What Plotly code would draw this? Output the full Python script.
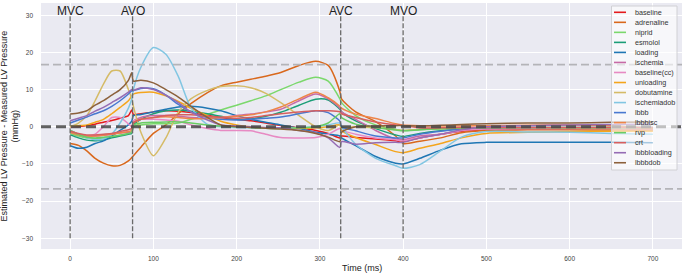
import plotly.graph_objects as go

# ---------------- data ----------------
T = [0, 10, 20, 30, 40, 50, 60, 70, 74, 76, 85, 100, 115, 130, 145, 165, 181, 200, 217, 235,
     253, 275, 295, 310, 324, 326, 343, 367, 391, 400, 420, 445, 470, 500, 550, 600, 650, 700]

baseline = [0, 0, 0.3, 0.7, 1.2, 1.7, 2.3, 3, 4.5, 3.3, 3.5, 4, 4.3, 4.2, 3.8, 3, 2.5, 2, 1.6, 1,
            0.3, -0.3, -1, -1.8, -3, -2.5, -2.9, -3.3, -3.8, -4, -3, -2, -1.2, -0.8, -0.7, -0.6, -0.6, -0.6]
adrenaline = [-4.5, -5, -6.5, -8.5, -9.8, -10.5, -10.4, -9.2, -8.3, -7.8, -5.5, -1.8, 0.5, 3.5, 6.2, 9.2, 11, 12, 12.8, 13.6,
              14.6, 16.5, 17.6, 16.5, 9.5, 7.5, 4, 1.4, -2.5, -4.5, -3.9, -3, -1.6, -1, -0.8, -0.8, -0.9, -1]
niprid = [-1.8, -2.5, -3, -3.2, -3, -2.7, -2.3, -1.8, -1.5, 0, 0.5, 0.8, 0.8, 1, 2, 3.3, 4.5, 5.8, 7, 8.3,
          10, 12, 13.3, 12.3, 7.5, 6.5, 3, 0.5, -0.7, -1, -0.8, -0.6, -0.4, -0.3, -0.3, -0.3, -0.3, -0.3]
esmolol = [-2.2, -3, -3.6, -3.8, -3.5, -3, -2.5, -2, -1.8, 0.5, 2, 3.5, 4.3, 4.5, 4.2, 3.5, 2.8, 2, 2.1, 2.8,
           3.9, 5.8, 7.4, 7.2, 4.7, 4, 1.6, -0.5, -2.2, -2.6, -1.8, -1.1, -0.6, -0.3, -0.3, -0.3, -0.3, -0.3]
loading = [-5.1, -5.8, -5.5, -4.5, -3.8, -2.5, -1, 0.5, 1.5, 3, 3.3, 4, 4.7, 5.3, 5.5, 5, 4.3, 3, 2, 1.2,
           0.5, -0.5, -1.5, -2, -2.5, -3, -5.1, -8, -9.8, -10, -8.5, -6.3, -4.6, -4.2, -4.2, -4.2, -4.2, -4.3]
ischemia = [-1.5, -2, -2.5, -2.5, -2.3, -2, -1.7, -1.5, -1.5, 1.5, 2.5, 3, 3, 2.8, 2.5, 2.3, 2.5, 3, 3.4, 4,
            4.7, 7, 8.8, 7.5, 5, 4, 2, -1, -3.3, -3.5, -2.5, -2, -1, -0.5, -0.5, -0.5, -0.5, -0.5]
baseline_cc = [-1, -2, -2.5, -2, 0, 2.5, 2.5, 0.8, 0, 1.5, 2, 2, 1.8, 1.5, 0.5, -0.5, -1, -1, -1.1, -2,
               -2.9, -3, -2.9, -2, -0.5, -1, -2, -3, -3.5, -3.8, -3, -2, -1, -0.6, -0.5, -0.5, -0.5, -0.5]
unloading = [0.2, 0.3, 0.5, 1.2, 2, 3.5, 5.2, 7, 8.3, 8.8, 9.2, 9.3, 8.3, 6.8, 5, 3, 1.5, 0.5, 0, -0.3,
             -0.4, -0.5, -0.3, 0, 0.5, -1, -2.9, -4.8, -6.7, -7, -5.8, -4.5, -3, -1.8, -1.5, -1.3, -1.2, -1.2]
dobutamine = [0, 1, 3, 7, 11.5, 15, 15, 10, 7.5, 5.5, -1.5, -7.8, -3, 4, 7.5, 9.8, 10.8, 11, 10.5, 9,
              6.5, 3, 0, -1, 0.5, 0, 0, -0.3, -0.8, -1, -0.7, -0.5, -0.4, -0.3, -0.3, -0.4, -0.5, -0.5]
ischemiadob = [-1, -2, -3, -3.5, -3.3, -2, 1, 5, 7.5, 10, 16, 21.3, 19.5, 13.5, 5.2, 0.6, 0, -0.2, -0.3, -0.3,
               -0.3, -0.2, 0, 0.5, 1, 0, -4.7, -8.5, -10.5, -11.2, -10.2, -6.5, -2.8, -1.3, -1.4, -1.5, -1.8, -2]
lbbb = [1, 1.8, 2.6, 3.5, 4.3, 5.5, 7, 8.8, 9.7, 9.7, 10.3, 10.2, 8.5, 6, 4, 2.5, 2, 1.8, 2, 2.3,
        2.6, 3.5, 4.3, 3.8, 1.5, 0, -1.1, -2.5, -3, -3, -2, -1.2, -0.6, -0.3, -0.2, -0.2, -0.2, -0.2]
lbbbisc = [-1.5, -2.2, -2.5, -2.5, -2.3, -2, -1.7, -1.3, -1, 1, 2, 2.5, 2.7, 2.5, 2.2, 2.2, 2.5, 2.8, 3.2, 4,
           5.3, 7.5, 9.3, 7.8, 5.5, 5, 3.4, 2.2, 0.8, 0.5, 0.3, 0.2, 0.2, 0.3, 0.4, 0.5, 0.3, -0.5]
rvp = [-1, -2, -2.8, -3, -2.8, -2.6, -2.3, -1.8, -1.5, 0.5, 1, 1.2, 1.3, 1.3, 1, 0.5, 0.2, 0, -0.2, -0.4,
       -0.5, -0.3, 0, 1, 3.5, 2.5, 0.7, -0.2, -0.9, -1.1, -0.8, -0.5, -0.4, -0.3, -0.2, -0.2, -0.2, -0.2]
crt = [-1.2, -1.8, -2.2, -2.2, -2, -1.8, -1.3, -0.8, -0.5, 1, 2, 2.5, 3, 3.2, 3.2, 2.8, 2.5, 2.3, 2.5, 3,
       3.5, 4, 4.3, 4.3, 4, 3.5, 2.5, 1.3, 0.5, 0.3, -0.3, -0.3, -0.2, -0.2, -0.2, -0.2, -0.2, -0.2]
lbbbloading = [1.6, 2.3, 3, 4.2, 5.2, 6.5, 7.8, 9.3, 10, 9.8, 10.5, 10, 8.5, 6.5, 4, 1.8, 0.5, 0.2, 0, -0.2,
               -0.3, -1, -1.6, -3, -5.6, -4, -4.7, -4.3, -4.2, -4.2, -3, -2, -0.8, 0, 0.3, 0.5, 0.6, 0.7]
lbbbdob = [3.4, 3.7, 4.3, 5.8, 7, 8.5, 10, 12.5, 14.5, 12.3, 12.5, 11.8, 10, 8, 5.5, 2.5, 0.5, 0, -0.2, -0.4,
           -0.6, -1, -1.8, -2.8, -4, -1.5, 0, 0.2, 0.3, 0.3, 0.2, 0.4, 0.6, 0.8, 1, 1, 1.2, 1.3]

NAMES = ["baseline", "adrenaline", "niprid", "esmolol", "loading", "ischemia", "baseline(cc)",
         "unloading", "dobutamine", "ischemiadob", "lbbb", "lbbbisc", "rvp", "crt",
         "lbbbloading", "lbbbdob"]
SERIES = [baseline, adrenaline, niprid, esmolol, loading, ischemia, baseline_cc, unloading,
          dobutamine, ischemiadob, lbbb, lbbbisc, rvp, crt, lbbbloading, lbbbdob]
COLORS = ["#e41a1c", "#d9681c", "#7bd86c", "#1b9e77", "#1f77b4", "#c76aa6", "#e78ac3",
          "#f4a51c", "#d5bb67", "#82c6e2", "#4878d0", "#ee854a", "#6acc64", "#d65f5f",
          "#956cb4", "#8c613c"]

EVENTS = [0, 75, 325, 400]
EVENT_LABELS = ["MVC", "AVO", "AVC", "MVO"]
LIMIT = 16.7
X_TICKS = [0, 100, 200, 300, 400, 500, 600, 700]
Y_TICKS = [-30, -20, -10, 0, 10, 20, 30]

# ---------------- figure ----------------
W, H = 685, 277
ML, MR, MT, MB = 41, 3, 3, 28
PW, PH = W - ML - MR, H - MT - MB

def px_x(p):
    return (p - ML) / PW

def px_y(p):
    return 1 - (p - MT) / PH

fig = go.Figure()
for name, vals, col in zip(NAMES, SERIES, COLORS):
    fig.add_trace(go.Scatter(x=T, y=vals, name=name, mode="lines",
                             line=dict(color=col, width=1.5, shape="spline", smoothing=0.7),
                             showlegend=False))

# event lines
for ev, lab in zip(EVENTS, EVENT_LABELS):
    fig.add_shape(type="line", xref="x", yref="y", x0=ev, x1=ev, y0=-30, y1=30,
                  line=dict(color="#6a6a6a", width=1.3, dash="5px,2px"), layer="above")
    fig.add_annotation(x=ev, y=31.2, xref="x", yref="y", text=lab, showarrow=False,
                       font=dict(family="Liberation Sans, Arial", size=12, color="#222222"),
                       xanchor="center", yanchor="middle")

# limit lines
for yv in (LIMIT, -LIMIT):
    fig.add_shape(type="line", xref="paper", yref="y", x0=0, x1=1, y0=yv, y1=yv,
                  line=dict(color="#b4b4b8", width=1.8, dash="8px,4px"), layer="above")
fig.add_shape(type="line", xref="paper", yref="y", x0=0, x1=1, y0=0, y1=0,
              line=dict(color="rgba(70,70,70,0.85)", width=3, dash="10px,5px"), layer="above")

# legend box (manual)
fig.add_shape(type="rect", xref="paper", yref="paper",
              x0=px_x(611.5), x1=px_x(677), y0=px_y(170), y1=px_y(6),
              fillcolor="rgba(255,255,255,0.6)", line=dict(color="#d0d0d4", width=1), layer="above")
for i, (name, col) in enumerate(zip(NAMES, COLORS)):
    yc = 12.3 + i * 10.03
    fig.add_shape(type="line", xref="paper", yref="paper", x0=px_x(614), x1=px_x(626),
                  y0=px_y(yc), y1=px_y(yc), line=dict(color=col, width=1.6), layer="above")
    fig.add_annotation(x=px_x(633), y=px_y(yc), xref="paper", yref="paper", text=name,
                       showarrow=False, xanchor="left", yanchor="middle",
                       font=dict(family="Liberation Sans, Arial", size=7.2, color="#333333"))

# axis titles
fig.add_annotation(x=px_x(9.5), y=0.5, xref="paper", yref="paper",
                   text="Estimated LV Pressure - Measured LV Pressure<br>(mmHg)",
                   textangle=-90, showarrow=False, xanchor="center", yanchor="middle",
                   font=dict(family="Liberation Sans, Arial", size=9, color="#222222"))
fig.add_annotation(x=0.5, y=px_y(268), xref="paper", yref="paper", text="Time (ms)",
                   showarrow=False, xanchor="center", yanchor="middle",
                   font=dict(family="Liberation Sans, Arial", size=9, color="#222222"))

fig.update_layout(
    width=W, height=H, margin=dict(l=ML, r=MR, t=MT, b=MB),
    plot_bgcolor="#eaeaf2", paper_bgcolor="white", showlegend=False,
    font=dict(family="Liberation Sans, Arial", color="#444444"),
    xaxis=dict(range=[-35, 735], tickvals=X_TICKS, gridcolor="white", gridwidth=1,
               zeroline=False, showline=False, tickfont=dict(size=6.5, color="#444444"),
               ticklabelstandoff=4),
    yaxis=dict(range=[-32.9, 33.3], tickvals=Y_TICKS, gridcolor="white", gridwidth=1,
               zeroline=False, showline=False, tickfont=dict(size=6.5, color="#444444"),
               ticklabelstandoff=7),
)

fig.write_html("out.html", config={"displayModeBar": False},
               post_script="document.body.style.margin='0';document.body.style.overflow='hidden';")
